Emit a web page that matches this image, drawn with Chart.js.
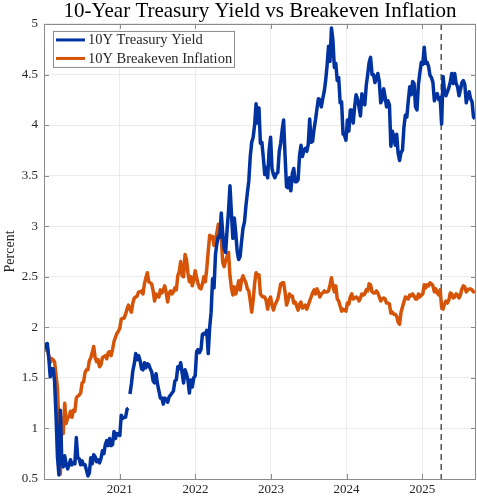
<!DOCTYPE html>
<html><head><meta charset="utf-8">
<script src="https://cdn.jsdelivr.net/npm/chart.js@4.4.1/dist/chart.umd.min.js"></script>
<style>html,body{margin:0;padding:0;background:#fff;}canvas{display:block;}</style>
</head><body>
<canvas id="c" width="477" height="496"></canvas>
<script>
// ---------- labels ----------
const chartTitle = '10-Year Treasury Yield vs Breakeven Inflation';
const seriesNames = ['10Y Treasury Yield', '10Y Breakeven Inflation'];
const yAxisLabel = 'Percent';
const axisStart = '2020-01-01';
const axisEnd = '2025-09-17';
const markerDate = '2025-04-02';
const xTickYears = [2021, 2022, 2023, 2024, 2025];
const yTickValues = [0.5, 1, 1.5, 2, 2.5, 3, 3.5, 4, 4.5, 5];
const gapDates = ['2021-02-15'];

// ---------- weekly readings (first Friday of each year, then weekly) ----------
const firstFridays = ['2020-01-03','2021-01-01','2022-01-07','2023-01-06','2024-01-05','2025-01-03'];

const treasury2020 = [1.79,1.83,1.84,1.70,1.51, 1.59,1.59,1.47,1.13, 0.72,0.54,1.18,0.68, 0.62,0.73,0.65,0.60,
  0.64,0.69,0.64,0.66,0.65, 0.91,0.71,0.70,0.64, 0.68,0.64,0.64,0.59,0.53, 0.56,0.71,0.65,0.74,
  0.72,0.67,0.69,0.66, 0.70,0.78,0.75,0.84,0.88, 0.83,0.90,0.83,0.84, 0.97,0.90,0.95,0.94];
const treasury2021 = [0.93,1.13,1.10,1.11,1.11, 1.19,1.20,1.34,1.44, 1.57,1.64,1.74,1.68, 1.72,1.67,1.59,1.58,1.65,
  1.60,1.64,1.63,1.59, 1.56,1.47,1.45,1.54, 1.44,1.37,1.30,1.30,1.24, 1.30,1.29,1.26,1.31,
  1.33,1.35,1.37,1.47, 1.48,1.61,1.59,1.65,1.55, 1.45,1.58,1.54,1.48, 1.35,1.48,1.41,1.50,1.52];
const treasury2022 = [1.76,1.78,1.75,1.78, 1.93,1.94,1.93,1.97, 1.74,2.00,2.15,2.48, 2.39,2.72,2.83,2.90,2.89,
  3.13,2.93,2.78,2.74, 2.96,3.15,3.40,3.13, 2.88,3.08,2.93,2.75,2.67, 2.70,2.85,2.98,3.04,
  3.20,3.33,3.45,3.69,3.83, 3.88,4.00,4.21,4.02, 4.17,3.82,3.83,3.68, 3.51,3.58,3.48,3.75,3.88];
const treasury2023 = [3.57,3.51,3.48,3.52, 3.53,3.74,3.82,3.95, 4.05,3.70,3.39,3.38,3.48, 3.35,3.52,3.57,3.44,
  3.44,3.46,3.70,3.80, 3.69,3.75,3.77,3.74,3.81, 4.06,3.83,3.84,3.96, 4.05,4.16,4.26,4.25,
  4.18,4.26,4.33,4.44,4.59, 4.78,4.63,4.96,4.84, 4.57,4.61,4.44,4.47, 4.22,4.23,3.91,3.90,3.85];
const treasury2024 = [4.05,3.94,4.15,4.15, 4.02,4.18,4.30,4.26, 4.18,4.09,4.31,4.22,4.20, 4.39,4.50,4.62,4.67,
  4.50,4.50,4.42,4.46,4.51, 4.43,4.22,4.25,4.36, 4.28,4.18,4.24,4.20, 3.79,3.94,3.89,3.80,3.91,
  3.72,3.65,3.73,3.75, 3.98,4.10,4.08,4.24, 4.38,4.30,4.43,4.41,4.18, 4.15,4.40,4.52,4.62];
const treasury2025 = [4.60,4.77,4.61,4.62,4.58, 4.49,4.47,4.42,4.24, 4.30,4.31,4.25,4.27, 4.01,4.48,4.33,4.29,
  4.33,4.37,4.43,4.51,4.41, 4.51,4.41,4.38,4.29, 4.35,4.42,4.44,4.40, 4.22,4.28,4.33,4.26,4.23, 4.08,4.06];

const breakeven2020 = [1.77,1.78,1.79,1.72,1.65, 1.69,1.68,1.66,1.53, 1.40,1.03,0.55,1.10, 0.95,1.25,1.05,1.10,
  1.12,1.17,1.11,1.18,1.17, 1.30,1.32,1.33,1.35, 1.45,1.46,1.55,1.58,1.58, 1.67,1.70,1.75,1.81,
  1.70,1.66,1.68,1.61, 1.63,1.70,1.71,1.72,1.69, 1.75,1.76,1.72,1.78, 1.86,1.90,1.94,1.96];
const breakeven2021 = [1.99,2.08,2.09,2.09,2.13, 2.18,2.22,2.18,2.15, 2.24,2.29,2.30,2.31, 2.35,2.35,2.36,2.33,2.43,
  2.49,2.54,2.45,2.44, 2.43,2.36,2.26,2.33, 2.31,2.30,2.37,2.34,2.37, 2.41,2.34,2.25,2.34,
  2.36,2.33,2.35,2.39, 2.37,2.51,2.55,2.65,2.51, 2.50,2.72,2.67,2.54, 2.45,2.50,2.41,2.47,2.56];
const breakeven2022 = [2.49,2.43,2.39,2.38, 2.43,2.50,2.45,2.58, 2.75,2.91,2.88,2.90, 2.81,2.86,2.94,3.02,2.91,
  2.89,2.64,2.60,2.66, 2.70,2.74,2.51,2.39, 2.32,2.40,2.33,2.38,2.46, 2.37,2.47,2.51,2.47,
  2.44,2.38,2.36,2.26,2.15, 2.27,2.43,2.54,2.50, 2.52,2.33,2.31,2.30, 2.30,2.26,2.18,2.27,2.30];
const breakeven2023 = [2.22,2.17,2.22,2.25, 2.28,2.35,2.43,2.44, 2.44,2.35,2.22,2.26,2.33, 2.31,2.31,2.24,2.25,
  2.21,2.17,2.23,2.25, 2.19,2.20,2.22,2.18,2.22, 2.26,2.30,2.34,2.37, 2.33,2.38,2.35,2.30,
  2.33,2.34,2.36,2.35,2.35, 2.36,2.42,2.49,2.41, 2.35,2.41,2.28,2.26, 2.21,2.16,2.18,2.17,2.16];
const breakeven2024 = [2.24,2.23,2.30,2.33, 2.28,2.29,2.30,2.29, 2.26,2.29,2.33,2.32,2.33, 2.37,2.36,2.43,2.42,
  2.35,2.34,2.34,2.36,2.34, 2.30,2.26,2.28,2.29, 2.28,2.24,2.24,2.23, 2.14,2.15,2.13,2.13,2.11,
  2.05,2.03,2.15,2.20, 2.25,2.30,2.29,2.28, 2.32,2.31,2.33,2.31,2.28, 2.28,2.33,2.30,2.32];
const breakeven2025 = [2.33,2.42,2.39,2.42,2.41, 2.44,2.43,2.41,2.35, 2.38,2.34,2.32,2.37, 2.20,2.18,2.23,2.26,
  2.24,2.27,2.34,2.33,2.29, 2.30,2.33,2.32,2.29, 2.32,2.38,2.41,2.40, 2.35,2.37,2.38,2.38,2.37, 2.35,2.36];

const treasuryByYear = [treasury2020, treasury2021, treasury2022, treasury2023, treasury2024, treasury2025];
const breakevenByYear = [breakeven2020, breakeven2021, breakeven2022, breakeven2023, breakeven2024, breakeven2025];

// ---------- helpers ----------
function dayNum(s) {
  const p = s.split('-').map(Number);
  return (Date.UTC(p[0], p[1] - 1, p[2]) - Date.UTC(2020, 0, 1)) / 86400000;
}
function buildPoints(byYear, gaps) {
  const pts = [];
  byYear.forEach((vals, i) => {
    const d0 = dayNum(firstFridays[i]);
    vals.forEach((v, j) => pts.push({x: d0 + 7 * j, y: v}));
  });
  gaps.forEach(g => pts.push({x: dayNum(g), y: null}));
  pts.sort((a, b) => a.x - b.x);
  return pts;
}

const BLUE = '#0033A0';
const ORANGE = '#D55407';
const AXIS = '#8a8a8a';
const SERIF = "'Liberation Serif', 'DejaVu Serif', serif";

const framePlugin = {
  id: 'frame',
  beforeDatasetsDraw(chart) {
    const {ctx, chartArea: a, scales} = chart;
    const x = scales.x.getPixelForValue(dayNum(markerDate));
    ctx.save();
    ctx.strokeStyle = '#555';
    ctx.lineWidth = 1.5;
    ctx.setLineDash([6, 4]);
    ctx.beginPath();
    ctx.moveTo(x, a.top);
    ctx.lineTo(x, a.bottom);
    ctx.stroke();
    ctx.restore();
  },
  afterDraw(chart) {
    const {ctx, chartArea: a, scales} = chart;
    ctx.save();
    // box
    ctx.strokeStyle = AXIS;
    ctx.lineWidth = 1;
    ctx.strokeRect(Math.round(a.left) + 0.5, Math.round(a.top) + 0.5,
      Math.round(a.right - a.left) - 1, Math.round(a.bottom - a.top));
    // inward ticks
    ctx.beginPath();
    scales.y.ticks.forEach(t => {
      const y = Math.round(scales.y.getPixelForValue(t.value)) + 0.5;
      ctx.moveTo(a.left, y); ctx.lineTo(a.left + 5, y);
      ctx.moveTo(a.right - 5, y); ctx.lineTo(a.right, y);
    });
    scales.x.ticks.forEach(t => {
      const x = Math.round(scales.x.getPixelForValue(t.value)) + 0.5;
      ctx.moveTo(x, a.bottom); ctx.lineTo(x, a.bottom - 5);
      ctx.moveTo(x, a.top); ctx.lineTo(x, a.top + 5);
    });
    ctx.stroke();
    // legend
    const lx = a.left + 9, ly = a.top + 7, lw = 181, lh = 36;
    ctx.fillStyle = '#fff';
    ctx.fillRect(lx, ly, lw, lh);
    ctx.strokeStyle = AXIS;
    ctx.strokeRect(lx + 0.5, ly + 0.5, lw, lh);
    ctx.font = '14.5px ' + SERIF;
    ctx.textBaseline = 'middle';
    chart.data.datasets.forEach((ds, i) => {
      const cy = ly + 9 + i * 18.5;
      ctx.strokeStyle = ds.borderColor;
      ctx.lineWidth = 3;
      ctx.beginPath();
      ctx.moveTo(lx + 3, cy); ctx.lineTo(lx + 32, cy);
      ctx.stroke();
      ctx.fillStyle = '#262626';
      ctx.fillText(ds.label, lx + 35, cy + 0.5);
    });
    ctx.restore();
  }
};

new Chart(document.getElementById('c'), {
  type: 'line',
  data: {
    datasets: [
      {label: seriesNames[0], data: buildPoints(treasuryByYear, gapDates), borderColor: BLUE, backgroundColor: BLUE,
       borderWidth: 3.5, pointRadius: 0, tension: 0, spanGaps: false, borderJoinStyle: 'round', fill: false},
      {label: seriesNames[1], data: buildPoints(breakevenByYear, []), borderColor: ORANGE, backgroundColor: ORANGE,
       borderWidth: 3.5, pointRadius: 0, tension: 0, borderJoinStyle: 'round', fill: false}
    ]
  },
  options: {
    responsive: false,
    animation: false,
    devicePixelRatio: 1,
    layout: {padding: {left: 0, right: 1, top: 0, bottom: 0}},
    plugins: {
      legend: {display: false},
      tooltip: {enabled: false},
      title: {display: true, text: chartTitle, color: '#000', fullSize: false,
        font: {family: SERIF, size: 21, weight: 'normal', lineHeight: 1.14}, padding: {top: 0, bottom: 0}}
    },
    scales: {
      x: {
        type: 'linear',
        min: dayNum(axisStart), max: dayNum(axisEnd),
        afterBuildTicks: s => { s.ticks = xTickYears.map(y => ({value: dayNum(y + '-01-01')})); },
        afterFit: s => { s.height = 17; },
        ticks: {callback: (v, i) => String(xTickYears[i]), color: '#262626', padding: 3,
          maxRotation: 0, autoSkip: false, font: {family: SERIF, size: 13}},
        grid: {color: '#ebebeb', lineWidth: 1, drawTicks: false},
        border: {display: false}
      },
      y: {
        min: 0.5, max: 5,
        afterBuildTicks: s => { s.ticks = yTickValues.map(v => ({value: v})); },
        afterFit: s => { s.width = 44; },
        ticks: {callback: v => String(v), color: '#262626', padding: 6, autoSkip: false,
          font: {family: SERIF, size: 13}},
        grid: {color: '#ebebeb', lineWidth: 1, drawTicks: false},
        border: {display: false},
        title: {display: true, text: yAxisLabel, color: '#262626', padding: {top: 2, bottom: 0},
          font: {family: SERIF, size: 14}}
      }
    }
  },
  plugins: [framePlugin]
});
</script>
</body></html>
